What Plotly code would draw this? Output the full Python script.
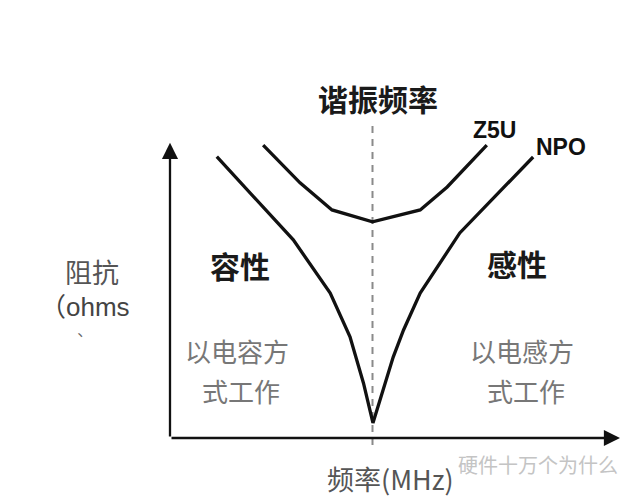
import plotly.graph_objects as go

# Frequency (relative units, 0 at the impedance axis) and impedance (relative units)
npo_freq = [10.4, 27.4, 35.6, 40.0, 43.0, 45.1, 49.6, 51.9, 55.6, 64.4, 80.7]
npo_impedance = [89.3, 62.9, 46.0, 32.1, 17.4, 4.8, 25.7, 34.3, 46.0, 65.1, 89.2]

z5u_freq = [20.7, 28.9, 36.0, 45.0, 55.6, 61.6, 70.4]
z5u_impedance = [93.0, 81.0, 72.4, 68.6, 72.4, 79.7, 93.0]

resonance_freq = 45.0
resonance_span = [-2.2, 100.0]

axis_x_end = 100.0
axis_y_end = 93.7

series_names = ["NPO", "Z5U"]
title_text = "谐振频率"
x_title = "频率(MHz)"
y_title_lines = ["阻抗", "（ohms", "、"]
region_left = ["容性", "以电容方", "式工作"]
region_right = ["感性", "以电感方", "式工作"]
watermark = "硬件十万个为什么"

CJK = "Noto Sans CJK SC, Noto Sans, sans-serif"
NARROW = "Liberation Sans Narrow, Arial Narrow, Liberation Sans, Arial, sans-serif"
LATIN = "Liberation Sans, Arial, Noto Sans CJK SC, sans-serif"

fig = go.Figure()

# resonance dashed line
fig.add_trace(go.Scatter(
    x=[resonance_freq, resonance_freq], y=resonance_span, mode="lines",
    line=dict(color="#8a8a8a", width=2, dash="7px,6px"), hoverinfo="skip", showlegend=False))

fig.add_trace(go.Scatter(
    x=npo_freq, y=npo_impedance, mode="lines", name=series_names[0],
    line=dict(color="#111111", width=3.3), showlegend=False))
fig.add_trace(go.Scatter(
    x=z5u_freq, y=z5u_impedance, mode="lines", name=series_names[1],
    line=dict(color="#111111", width=3.3), showlegend=False))

ann = []
# axes as arrows
ann.append(dict(x=0, y=axis_y_end, ax=0, ay=0, xref="x", yref="y", axref="x", ayref="y",
                text="", showarrow=True, arrowhead=2, arrowsize=1.4, arrowwidth=2.3,
                arrowcolor="#111111"))
ann.append(dict(x=axis_x_end, y=0, ax=0, ay=0, xref="x", yref="y", axref="x", ayref="y",
                text="", showarrow=True, arrowhead=2, arrowsize=1.4, arrowwidth=2.3,
                arrowcolor="#111111"))

def txt(x, y, s, size, color, bold=False, family=CJK):
    if bold:
        s = "<b>" + s + "</b>"
    ann.append(dict(x=x, y=y, xref="x", yref="y", text=s, showarrow=False,
                    font=dict(family=family, size=size, color=color),
                    xanchor="center", yanchor="middle"))

txt(46.2, 107.9, title_text, 30, "#1a1a1a", bold=True)
txt(72.0, 97.8, series_names[1], 23, "#111111", bold=True, family=NARROW)
txt(86.9, 92.4, series_names[0], 23, "#111111", bold=True, family=NARROW)
txt(15.6, 54.9, region_left[0], 30, "#1a1a1a", bold=True)
txt(77.1, 55.6, region_right[0], 30, "#1a1a1a", bold=True)
txt(14.9, 27.9, region_left[1], 26, "#777777")
txt(15.8, 15.2, region_left[2], 26, "#777777")
txt(78.2, 27.9, region_right[1], 26, "#777777")
txt(79.1, 15.2, region_right[2], 26, "#777777")
txt(-17.3, 53.0, y_title_lines[0], 27, "#555555")
# unit line and the stray mark below it share one block
txt(-19.0, 38.8,
    "<span style='font-size:26px;color:#444444'>" + y_title_lines[1] + "</span><br>"
    + y_title_lines[2], 15, "#666666", family=LATIN)
txt(49.1, -13.0, x_title, 27, "#555555")
txt(81.8, -8.3, watermark, 20, "#c4c4c4")

# the page body adds an 8px offset; the figure is sized to fill the 640x497 window
fig.update_layout(
    width=632, height=489,
    margin=dict(l=32, r=5, t=52, b=5),
    paper_bgcolor="white", plot_bgcolor="white",
    xaxis=dict(range=[-28.889, 103.333], visible=False, fixedrange=True),
    yaxis=dict(range=[-17.14, 120.0], visible=False, fixedrange=True),
    annotations=ann,
    showlegend=False,
)

fig.write_html("out.html")
